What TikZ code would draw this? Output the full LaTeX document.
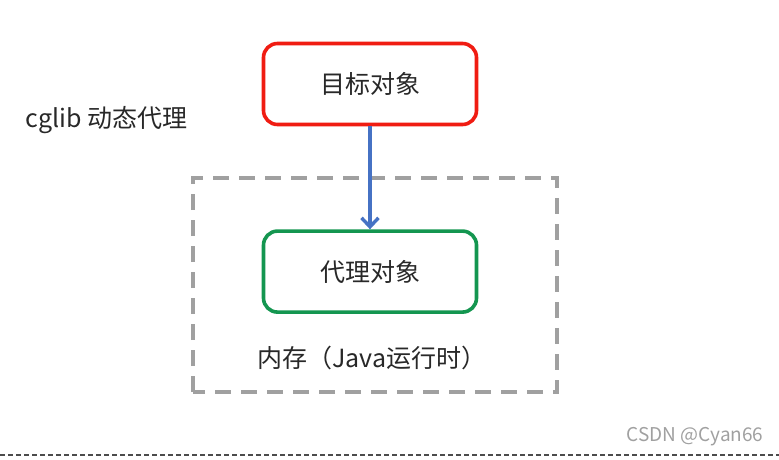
\documentclass[tikz,border=0pt]{standalone}
\usepackage{fontspec}
\setmainfont{Noto Sans CJK SC}
\usepackage{xcolor}
\usetikzlibrary{arrows.meta, positioning}
\definecolor{targetred}{RGB}{240,28,18}
\definecolor{proxygreen}{RGB}{20,150,80}
\definecolor{arrowblue}{RGB}{70,114,196}
\definecolor{memgray}{RGB}{160,160,160}
\definecolor{textgray}{RGB}{40,40,40}

\begin{document}
\begin{tikzpicture}[
    x=1pt, y=1pt,
    objbox/.style={draw, rounded corners=14pt, line width=3.6pt, fill=white, minimum width=213pt, minimum height=81pt, text=textgray},
    every node/.style={font=\fontsize{25}{30}\selectfont},
]
    \useasboundingbox (0,0) rectangle (779,459);

    % Memory area (Java runtime)
    \draw[memgray, line width=3.6pt, dash pattern=on 16pt off 10pt] (193,67) rectangle (557,281);

    % Target object
    \node[objbox, draw=targetred] (target) at (370,375) {目标对象};

    % Proxy object
    \node[objbox, draw=proxygreen, below=103pt of target] (proxy) {代理对象};

    % Arrow
    \draw[arrowblue, line width=3.4pt, -{Straight Barb[length=9pt, width=17pt]}] (target) -- (proxy);

    % Labels
    \node[anchor=west, text=textgray] (title) at (22,339) {cglib 动态代理};
    \node[anchor=west, text=textgray] (memory) at (254,101) {内存（Java运行时）};

    % Watermark
    \node[anchor=east, text=memgray, font=\fontsize{19}{22}\selectfont] (mark) at (767,22) {CSDN @Cyan66};
    \draw[black!70, line width=2pt, dash pattern=on 5pt off 3pt] (0,4) -- (779,4);
\end{tikzpicture}
\end{document}
